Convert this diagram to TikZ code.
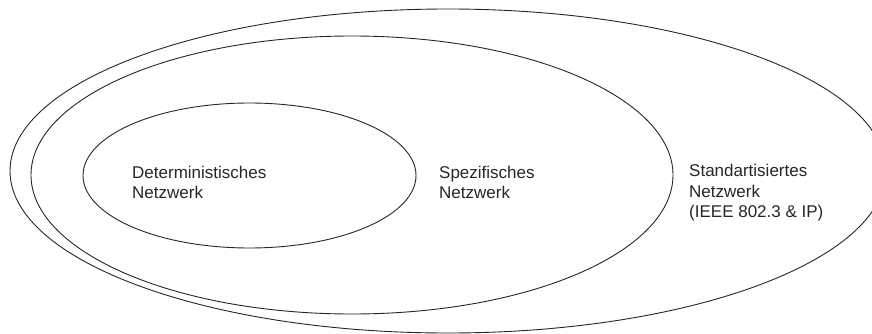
\documentclass[tikz,border=0pt]{standalone}
\usepackage{fontspec}
\setmainfont{Liberation Sans}
\usetikzlibrary{shapes.geometric}
\begin{document}
\begin{tikzpicture}[x=1pt,y=-1pt,
  region/.style={draw=black!85, line width=0.9pt, ellipse, inner sep=0pt},
  tag/.style={anchor=base west, align=left, inner sep=0pt,
    font=\fontsize{17}{20.5}\selectfont, text=black!85}]
\useasboundingbox (0,0) rectangle (872,334);
\clip (0,0) rectangle (872,334);
% nested network classes
\node[region, minimum width=876pt, minimum height=324pt] (std) at (448,171) {};
\node[region, minimum width=642pt, minimum height=278pt] (spec) at (352,175) {};
\node[region, minimum width=333pt, minimum height=145pt] (det) at (249.5,175.5) {};
% labels (anchored at the baseline of the last line)
\node[tag] (tdet) at (132,198.5) {Deterministisches\\Netzwerk};
\node[tag] (tspec) at (439,198.5) {Spezifisches\\Netzwerk};
\node[tag] (tstd) at (689,217.5) {Standartisiertes\\Netzwerk\\(IEEE 802.3 \& IP)};
\end{tikzpicture}
\end{document}
